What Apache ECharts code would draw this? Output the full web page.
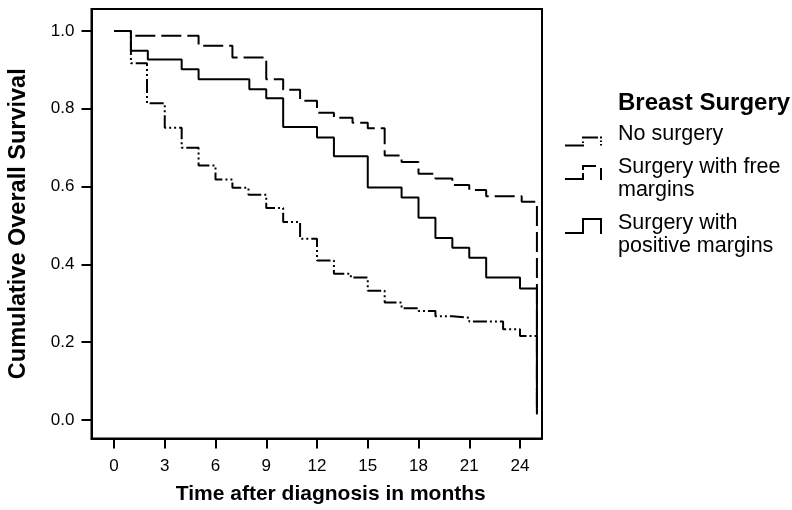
<!DOCTYPE html>
<html>
<head>
<meta charset="utf-8">
<script src="https://cdn.jsdelivr.net/npm/echarts@6/dist/echarts.min.js"></script>
<style>
  html, body { margin: 0; padding: 0; background: #fff; }
  #chart { width: 792px; height: 510px; }
</style>
</head>
<body>
<div id="chart"></div>
<script>
// Kaplan-Meier step curves: time (months) of each event and survival after it
const noSurgeryTime = [0, 1, 1.95, 3, 4, 5, 6, 7, 7.95, 9, 10, 11, 12, 13, 14, 15, 16, 17, 18, 19, 20, 21, 23, 24, 25];
const noSurgerySurv = [1.0, 0.917, 0.814, 0.751, 0.700, 0.654, 0.618, 0.597, 0.579, 0.545, 0.509, 0.466, 0.410, 0.376, 0.366, 0.332, 0.302, 0.287, 0.280, 0.267, 0.263, 0.253, 0.233, 0.216, 0.015];

const freeMarginTime = [0, 1, 5, 7, 9, 10, 11, 12, 13, 14.1, 15, 16, 17, 18, 19, 20, 21, 22, 24.1, 25];
const freeMarginSurv = [1.0, 0.988, 0.962, 0.932, 0.876, 0.849, 0.821, 0.790, 0.777, 0.764, 0.750, 0.680, 0.663, 0.633, 0.621, 0.604, 0.591, 0.575, 0.561, 0.015];

const posMarginTime = [0, 1, 2, 4, 5, 8, 9, 10, 12, 13, 15, 17, 18, 19, 20, 21, 22, 24, 25];
const posMarginSurv = [1.0, 0.949, 0.927, 0.902, 0.876, 0.850, 0.827, 0.753, 0.726, 0.678, 0.598, 0.572, 0.520, 0.468, 0.443, 0.417, 0.366, 0.338, 0.015];

const seriesNames = ['No surgery', 'Surgery with free margins', 'Surgery with positive margins'];
const legendLines = [['No surgery'], ['Surgery with free', 'margins'], ['Surgery with', 'positive margins']];

const xTicks = [0, 3, 6, 9, 12, 15, 18, 21, 24];
const yTicks = [0, 0.2, 0.4, 0.6, 0.8, 1.0];

const FONT = "'Liberation Sans', Arial, Helvetica, sans-serif";

function pairs(ts, vs) { return ts.map((t, i) => [t, vs[i]]); }

// step-shaped legend glyphs built from small filled bars
const iconDotted = 'path://M0 8H19V10H0Z M17 5H19V6.5H17Z M17 0H33V2H17Z M35 0H37V2H35Z M35 4H37V5.5H35Z M35 7.5H37V9H35Z';
const iconDashed = 'path://M0 13H19V15H0Z M17 8H19V15H17Z M17 0H19V5H17Z M17 0H31V2H17Z M35 3H37V15H35Z';
const iconSolid = 'path://M0 14H19V16H0Z M17 0H19V16H17Z M17 0H37V2H17Z M35 0H37V16H35Z';

// one legend block per group; an invisible spacer row nudges the label off the glyph centre
function legendBlock(idx, icon, h, top, lh, spacerBefore, spacerAfter) {
  const lines = legendLines[idx].map(s => '{t|' + s + '}');
  if (spacerBefore) lines.unshift('{s|.}');
  if (spacerAfter) lines.push('{e|.}');
  const label = lines.join('\n');
  return {
    show: true, orient: 'vertical', left: 565, top: top, padding: 0,
    itemWidth: 37, itemHeight: h, selectedMode: false,
    itemStyle: { borderWidth: 0 },
    data: [{ name: seriesNames[idx], icon: icon }],
    formatter: () => label,
    textStyle: {
      fontFamily: FONT, fontSize: 21.5, color: '#000', padding: [0, 0, 0, 11],
      rich: {
        t: { fontFamily: FONT, fontSize: 21.5, color: '#000', lineHeight: lh },
        s: { fontSize: 2, color: 'rgba(0,0,0,0)', lineHeight: spacerBefore || 2, height: spacerBefore || 2 },
        e: { fontSize: 2, color: 'rgba(0,0,0,0)', lineHeight: spacerAfter || 2, height: spacerAfter || 2 }
      }
    }
  };
}

const chart = echarts.init(document.getElementById('chart'), null, { renderer: 'canvas' });
chart.setOption({
  animation: false,
  backgroundColor: '#fff',
  title: {
    text: 'Breast Surgery', left: 618, top: 91, padding: 0,
    textStyle: { fontFamily: FONT, fontSize: 24, fontWeight: 'bold', color: '#000' }
  },
  legend: [
    legendBlock(0, iconDotted, 10, 123.5, 23, 0, 14),
    legendBlock(1, iconDashed, 15, 144, 22.5, 12, 0),
    legendBlock(2, iconSolid, 16, 193.8, 23.5, 17.4, 0)
  ],
  grid: {
    left: 91.5, right: 250, top: 9, bottom: 71.5,
    show: true, borderColor: '#000', borderWidth: 2,
    containLabel: false, outerBoundsMode: 'none'
  },
  xAxis: {
    type: 'value', min: -1.33, max: 25.3,
    name: 'Time after diagnosis in months', nameLocation: 'middle', nameGap: 45,
    nameTextStyle: { fontFamily: FONT, fontSize: 21, fontWeight: 'bold', color: '#000', padding: [0, 0, 0, 28] },
    axisLine: { show: true, onZero: false, lineStyle: { color: '#000', width: 2 } },
    axisTick: { show: true, customValues: xTicks, length: 10, lineStyle: { color: '#000', width: 2 } },
    axisLabel: { customValues: xTicks, margin: 19, fontFamily: FONT, fontSize: 17, color: '#000' },
    splitLine: { show: false }
  },
  yAxis: {
    type: 'value', min: -0.0476, max: 1.0566,
    name: 'Cumulative Overall Survival', nameLocation: 'middle', nameGap: 61,
    nameTextStyle: { fontFamily: FONT, fontSize: 23.5, fontWeight: 'bold', color: '#000' },
    axisLine: { show: true, onZero: false, lineStyle: { color: '#000', width: 2 } },
    axisTick: { show: true, customValues: yTicks, length: 10, lineStyle: { color: '#000', width: 2 } },
    axisLabel: { customValues: yTicks, margin: 17, fontFamily: FONT, fontSize: 17, color: '#000',
      formatter: v => v.toFixed(1) },
    splitLine: { show: false }
  },
  series: [
    {
      name: seriesNames[0], type: 'line', step: 'end', symbol: 'none',
      data: pairs(noSurgeryTime, noSurgerySurv),
      color: '#000',
      lineStyle: { color: '#000', width: 2, type: [14, 3, 2, 3, 2, 3] }
    },
    {
      name: seriesNames[1], type: 'line', step: 'end', symbol: 'none',
      data: pairs(freeMarginTime, freeMarginSurv),
      color: '#000',
      lineStyle: { color: '#000', width: 2, type: [20, 6] }
    },
    {
      name: seriesNames[2], type: 'line', step: 'end', symbol: 'none',
      data: pairs(posMarginTime, posMarginSurv),
      color: '#000',
      lineStyle: { color: '#000', width: 2, type: 'solid' }
    }
  ]
});
</script>
</body>
</html>
